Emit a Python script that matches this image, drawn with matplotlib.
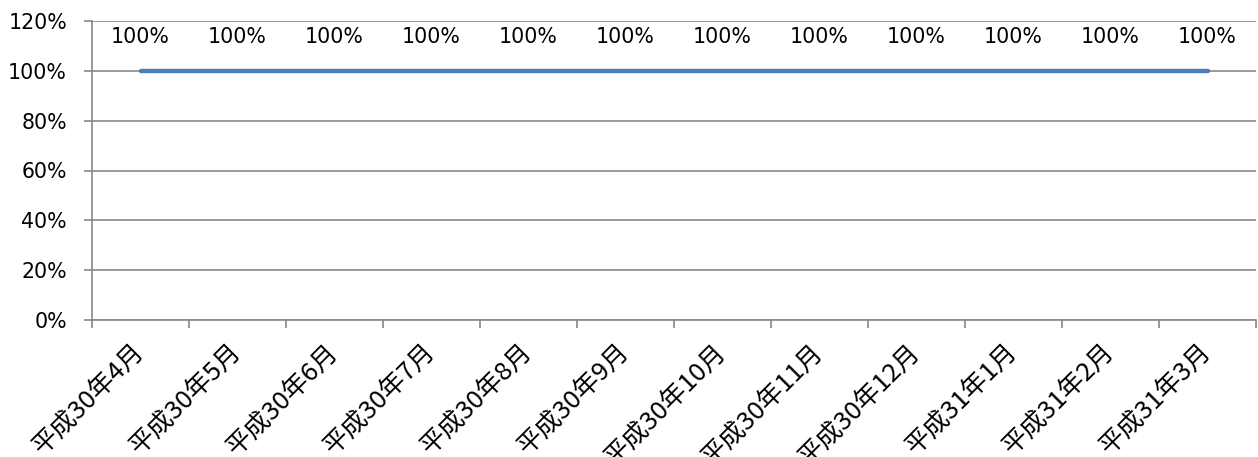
import matplotlib
matplotlib.use("Agg")
import matplotlib.pyplot as plt
import numpy as np

plt.rcParams['font.family'] = ['DejaVu Sans', 'Noto Sans CJK JP']

categories = ["平成30年4月", "平成30年5月", "平成30年6月", "平成30年7月", "平成30年8月",
              "平成30年9月", "平成30年10月", "平成30年11月", "平成30年12月",
              "平成31年1月", "平成31年2月", "平成31年3月"]
values = [100, 100, 100, 100, 100, 100, 100, 100, 100, 100, 100, 100]
yticks = [0, 20, 40, 60, 80, 100, 120]

fig = plt.figure(figsize=(12.58, 4.57), dpi=100)
ax = fig.add_axes([92/1258, 1-320/457, (1256-92)/1258, (320-21)/457])

fs = 14.8
gray = '#888888'
x = np.arange(len(categories))
ax.plot(x, values, color='#4A7EBB', linewidth=3.2, solid_capstyle='round', zorder=3)
for xi, v in zip(x, values):
    ax.annotate(f"{v}%", (xi, v), xytext=(0, 24.5), textcoords='offset points',
                ha='center', va='center', fontsize=fs, color='black')

ax.set_xlim(-0.5, len(categories) - 0.5)
ax.set_ylim(0, 120)
ax.set_yticks(yticks)
ax.set_yticklabels([f"{t}%" for t in yticks], fontsize=fs)
for t in yticks:
    ax.axhline(t, color=gray, linewidth=1.2, zorder=1)

ax.set_xticks(x)
ax.set_xticklabels(categories, rotation=45, ha='right', va='center',
                   rotation_mode='anchor', fontsize=18.5,
                   family=['Noto Sans CJK JP', 'DejaVu Sans'])
ax.set_xticks(np.arange(-0.5, len(categories)), minor=True)
ax.tick_params(axis='x', which='major', length=0, pad=20)
ax.tick_params(axis='x', which='minor', length=6, color=gray, width=1.2)
ax.tick_params(axis='y', length=6, color=gray, width=1.2, pad=12)

for s in ['top', 'right']:
    ax.spines[s].set_visible(False)
for s in ['left', 'bottom']:
    ax.spines[s].set_color(gray)
    ax.spines[s].set_linewidth(1.2)

fig.savefig("out.png", dpi=100)
